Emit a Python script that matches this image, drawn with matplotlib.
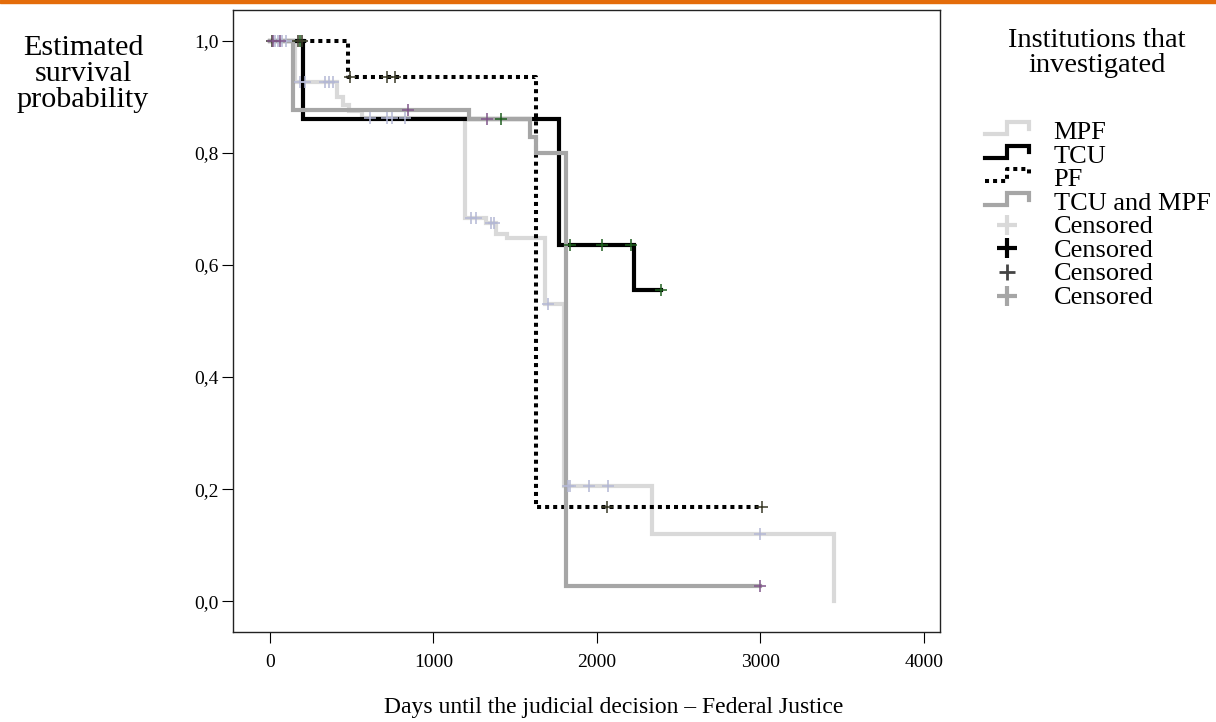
import numpy as np
import matplotlib
matplotlib.use("Agg")
import matplotlib.pyplot as plt
from matplotlib.lines import Line2D
from matplotlib.patches import Rectangle
from matplotlib.legend_handler import HandlerBase

plt.rcParams['font.family'] = ['Liberation Serif', 'DejaVu Serif']

# Kaplan-Meier step data (days, survival)
mpf_times = [0, 150, 410, 445, 480, 560, 1190, 1320, 1380, 1450, 1680, 1800, 2340, 3450]
mpf_surv = [1.0, 0.927, 0.900, 0.886, 0.875, 0.862, 0.683, 0.675, 0.655, 0.648, 0.530, 0.205, 0.120, 0.0]
mpf_cens = [30, 50, 70, 95, 185, 215, 335, 360, 385, 612, 716, 747, 827, 1230, 1260, 1350, 1370,
            1700, 1825, 1835, 1950, 2070, 3000]

tcu_times = [0, 200, 1770, 2225]
tcu_surv = [1.0, 0.860, 0.635, 0.555]
tcu_cens = [185, 1415, 1835, 2030, 2210, 2390]

pf_times = [0, 475, 1625]
pf_surv = [1.0, 0.935, 0.168]
pf_cens = [10, 170, 195, 490, 715, 765, 2065, 3010]

both_times = [0, 140, 1220, 1590, 1625, 1810]
both_surv = [1.0, 0.877, 0.860, 0.829, 0.800, 0.027]
both_cens = [20, 60, 845, 1330, 3000]

groups = ["MPF", "TCU", "PF", "TCU and MPF"]


def surv_at(t, times, surv):
    i = np.searchsorted(times, t, side='right') - 1
    return surv[i]


fig = plt.figure(figsize=(12.16, 7.22), dpi=100)
fig.patches.append(Rectangle((0, 1 - 3 / 722), 1, 3 / 722, transform=fig.transFigure,
                             color='#E46C0A', zorder=5))
ax = fig.add_axes([233 / 1216, 1 - 632 / 722, 707 / 1216, 622 / 722])

styles = [
    dict(color='#d9d9d9', lw=3.0, ls='-'),
    dict(color='black', lw=3.0, ls='-'),
    dict(color='black', lw=2.9, ls=(0, (1, 1))),
    dict(color='#a6a6a6', lw=3.0, ls='-'),
]
cens_colors = ['#b4b8d4', '#1f5f1f', '#3a3a28', '#80568a']

data = [(mpf_times, mpf_surv, mpf_cens), (tcu_times, tcu_surv, tcu_cens),
        (pf_times, pf_surv, pf_cens), (both_times, both_surv, both_cens)]

for (times, surv, cens), st, cc in zip(data, styles, cens_colors):
    end = max(times[-1], max(cens))
    t = list(times) + [end]
    s = list(surv) + [surv[-1]]
    ax.step(t, s, where='post', color=st['color'], lw=st['lw'], linestyle=st['ls'],
            solid_joinstyle='miter', dash_capstyle='butt')
    cy = [surv_at(c, times, surv) for c in cens]
    ax.plot(cens, cy, linestyle='none', marker='+', markersize=9, mew=1.1, color=cc, zorder=4)

ax.set_xlim(-227, 4100)
ax.set_ylim(-0.055, 1.055)
ax.set_xticks([0, 1000, 2000, 3000, 4000])
ax.set_yticks([0, 0.2, 0.4, 0.6, 0.8, 1.0])
ax.set_yticklabels(["0,0", "0,2", "0,4", "0,6", "0,8", "1,0"])
ax.tick_params(axis='both', length=8, width=0.8, labelsize=14)
ax.tick_params(axis='x', pad=8)
ax.tick_params(axis='y', pad=2)
for sp in ax.spines.values():
    sp.set_linewidth(1.0)
    sp.set_color('#222222')

fig.text(83 / 1216, 1 - 74 / 722, "Estimated\nsurvival\nprobability", ha='center', va='center',
         fontsize=21.7, linespacing=0.98)
fig.text(614 / 1216, 1 - 707 / 722, "Days until the judicial decision \u2013 Federal Justice",
         ha='center', va='center', fontsize=17)
fig.text(1097 / 1216, 1 - 53 / 722, "Institutions that\ninvestigated", ha='center', va='center',
         fontsize=20.5, linespacing=1.0)


class StepHandler(HandlerBase):
    def create_artists(self, legend, orig_handle, xdescent, ydescent, width, height, fontsize, trans):
        xs = np.array([0, 0.5, 0.5, 1, 1]) * width - xdescent
        ys = np.array([0.2, 0.2, 1.0, 1.0, 0.55]) * height - ydescent
        ln = Line2D(xs, ys)
        ln.update_from(orig_handle)
        ln.set_solid_joinstyle('miter')
        ln.set_transform(trans)
        return [ln]


line_handles = [Line2D([], [], color=st['color'], lw=st['lw'], linestyle=st['ls']) for st in styles]
cens_handles = [
    Line2D([], [], marker='+', linestyle='none', color='#d9d9d9', markersize=14, mew=3),
    Line2D([], [], marker='+', linestyle='none', color='black', markersize=14, mew=3),
    Line2D([], [], marker='+', linestyle='none', color='#444444', markersize=12, mew=2),
    Line2D([], [], marker='+', linestyle='none', color='#a6a6a6', markersize=14, mew=3),
]
handler_map = {h: StepHandler() for h in line_handles}
fig.legend(line_handles + cens_handles, groups + ["Censored"] * 4, handler_map=handler_map,
           loc='upper left', bbox_to_anchor=(985 / 1216, 1 - 122 / 722), bbox_transform=fig.transFigure,
           frameon=False, fontsize=19, borderpad=0, borderaxespad=0, handlelength=1.65,
           handletextpad=0.95, labelspacing=0.06, handleheight=0.5)

fig.savefig("out.png", dpi=100)
